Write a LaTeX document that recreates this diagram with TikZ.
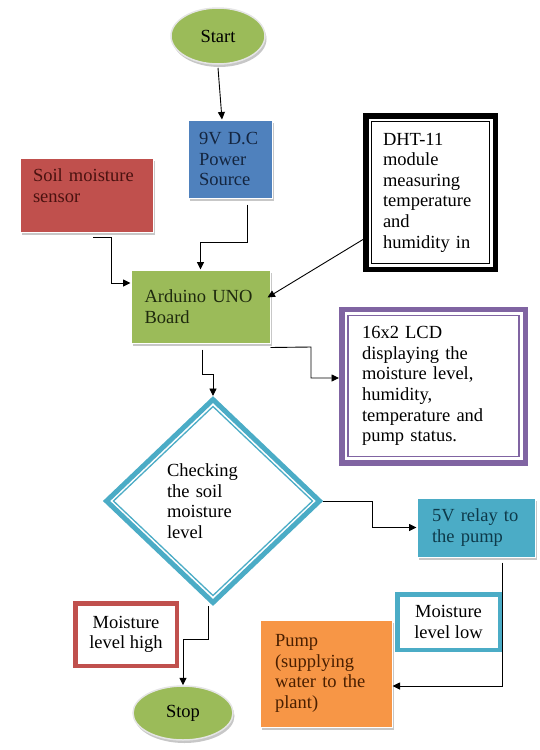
\documentclass[tikz,border=0pt]{standalone}
\usepackage{fontspec}
\setmainfont{Liberation Serif}
\usetikzlibrary{arrows.meta,shapes.geometric,shadows}

\definecolor{termgreen}{HTML}{9BBB59}
\definecolor{soilred}{HTML}{C0504D}
\definecolor{powerblue}{HTML}{4F81BD}
\definecolor{relayteal}{HTML}{4BACC6}
\definecolor{pumporange}{HTML}{F79646}
\definecolor{lcdpurple}{HTML}{8064A2}
\definecolor{soiltext}{HTML}{4A1210}
\definecolor{powertext}{HTML}{14253F}
\definecolor{ardtext}{HTML}{1F2A0E}
\definecolor{relaytext}{HTML}{0E3A4A}
\definecolor{pumptext}{HTML}{4A1F00}

\begin{document}
\begin{tikzpicture}[
  x=1pt, y=-1pt,
  font=\fontsize{18.5}{20.6}\selectfont,
  sh/.style={drop shadow={shadow xshift=1.5pt, shadow yshift=-3pt,
             fill=black!40, opacity=.55}},
  term/.style={ellipse, fill=termgreen, draw=gray!20, line width=1.5pt,
               sh, inner sep=0pt},
  bx/.style={draw=white, line width=1pt, sh, align=left, inner sep=0pt},
  lbl/.style={fill=white, line width=4.5pt, align=center, inner sep=0pt},
  a/.style={-{Triangle[length=7.5pt,width=7pt]}, line width=0.9pt}
]
\useasboundingbox (0,0) rectangle (540,750);

% ================= terminals =================
\node[term, minimum width=94, minimum height=56] (start) at (218,36) {Start};
\node[term, minimum width=100, minimum height=54] (stop) at (183,713) {Stop};

% ================= inputs =================
\node[bx, fill=powerblue, text=powertext, minimum width=84, minimum height=78,
      text width=62] (power) at (230,159) {9V~D.C\\Power\\Source};
\node[bx, fill=soilred, text=soiltext, minimum width=133, minimum height=74,
      text width=107, text depth=40pt] (soil) at (86.5,195)
  {Soil moisture\\sensor};
\node[draw, line width=5.5pt, fill=white, align=left, inner sep=0pt,
      minimum width=129.5, minimum height=153.5, text width=95] (dht)
  at (430.5,192.5)
  {DHT-11\\module\\measuring\\temperature\\and\\humidity in};
\draw[line width=1.5pt] ([shift={(8.5pt,-8.5pt)}]dht.north west)
  rectangle ([shift={(-8.5pt,8.5pt)}]dht.south east);

% ================= controller and display =================
\node[bx, fill=termgreen, text=ardtext, minimum width=139, minimum height=73,
      text width=112] (ard) at (200.5,306.5) {Arduino UNO\\Board};
\node[draw=lcdpurple, line width=5.5pt, fill=white, align=left, inner sep=0pt,
      minimum width=183.5, minimum height=153.5, text width=143] (lcd)
  at (433.5,386)
  {16x2 LCD\\displaying the\\moisture level,\\humidity,\\temperature and\\pump status.};
\draw[lcdpurple, line width=1.5pt] ([shift={(9pt,-9pt)}]lcd.north west)
  rectangle ([shift={(-9pt,9pt)}]lcd.south east);

% ================= decision =================
\node[diamond, draw=relayteal, line width=5pt, fill=white, align=left,
      inner sep=0pt, minimum width=215, minimum height=205, text width=92]
  (chk) at (213,501) {Checking\\the soil\\moisture\\level};
\draw[relayteal, line width=1.3pt] ([yshift=-10.5pt]chk.north)
  -- ([xshift=-10.5pt]chk.east) -- ([yshift=10.5pt]chk.south)
  -- ([xshift=10.5pt]chk.west) -- cycle;

% ================= outputs =================
\node[bx, fill=relayteal, text=relaytext, minimum width=118, minimum height=59,
      text width=88] (relay) at (476,527.5) {5V relay to\\the pump};
\node[bx, fill=pumporange, text=pumptext, minimum width=132, minimum height=107,
      text width=102] (pump) at (326,673.5)
  {Pump\\(supplying\\water to the\\plant)};

% ================= connectors =================
\draw[a] ([yshift=-3pt]start.south) -- ([xshift=-8pt]power.north);
\draw[a] ([shift={(6.5pt,-5pt)}]soil.south) -| (111,283)
  -- ([yshift=23.5pt]ard.west);
\draw[a] ([shift={(17pt,-6pt)}]power.south) -- (247,242) -| (ard.north);
\draw[a] ([yshift=-47pt]dht.west) -- ([shift={(-3pt,9pt)}]ard.east);
\draw[a] ([yshift=-4pt]ard.south east) -- (311,347) |- ([yshift=8pt]lcd.west);
\draw[a] ([shift={(1.5pt,-6pt)}]ard.south) -- (202,374) -| (chk.north);
\draw[a] (chk.east) -- (372,501) |- (relay.west);
\draw[a] ([shift={(26pt,-5pt)}]relay.south) -- (502,686)
  -- ([yshift=-12.5pt]pump.east);
\draw[a] ([xshift=-5pt]chk.south) -- (208,639) -| (stop.north);

% ================= branch labels =================
\node[lbl, draw=soilred, minimum width=101.5, minimum height=62.5] (high)
  at (126,634.5) {Moisture\\level high};
\node[lbl, draw=relayteal, minimum width=102.5, minimum height=55.5] (low)
  at (448.5,622) {Moisture\\level low};
\end{tikzpicture}
\end{document}
